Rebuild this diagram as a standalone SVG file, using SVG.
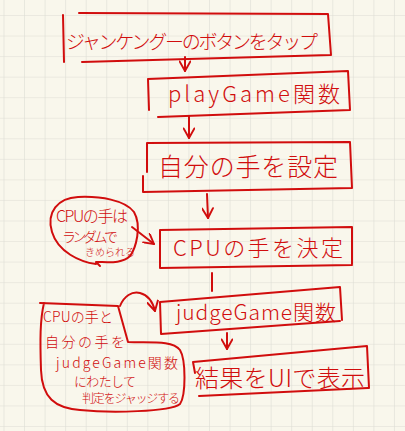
<svg xmlns="http://www.w3.org/2000/svg" width="405" height="431" viewBox="0 0 405 431">
<defs>
<pattern id="grid" x="3.5" y="15" width="20.55" height="20.55" patternUnits="userSpaceOnUse">
<path d="M0,0 H20.55 M0,0 V20.55" fill="none" stroke="#dddcd4" stroke-width="1.2"/>
</pattern>
<marker id="ah" viewBox="0 0 10 10" refX="9" refY="5" markerWidth="12" markerHeight="12" markerUnits="userSpaceOnUse" orient="auto">
<path d="M1,0.5 L9,5 L1,9.5" fill="none" stroke="#d10d0d" stroke-width="1.6" stroke-linecap="round" stroke-linejoin="round"/>
</marker>
<style>
.ln{fill:none;stroke:#d10d0d;stroke-width:2;stroke-linecap:round;stroke-linejoin:round}
.t{fill:#d10d0d;font-family:"Noto Sans CJK JP","Noto Sans",sans-serif;font-weight:300}
</style>
</defs>
<rect width="405" height="431" fill="#f9f7ec"/>
<rect width="405" height="431" fill="url(#grid)"/>
<g id="connectors">
<path class="ln" d="M185,57 L185,71" marker-end="url(#ah)"/>
<path class="ln" d="M189,116 L189,138" marker-end="url(#ah)"/>
<path class="ln" d="M207,194 L208,218" marker-end="url(#ah)"/>
<path class="ln" d="M212,273 L212,291"/>
<path class="ln" d="M227,333 L227,349" marker-end="url(#ah)"/>
<path class="ln" d="M132,227 L154,244" marker-end="url(#ah)"/>
<path class="ln" d="M120,306 C124,296 132,291 140,293 C148,295 153,303 155,311" marker-end="url(#ah)"/>
</g>
<g id="n1">
<path class="ln" d="M79,13 L328,14 L331,55 M63,15 L64,62 M82,62 L330,55"/>
<text class="t" x="66" y="49" font-size="19" textLength="252" lengthAdjust="spacing">ジャンケングーのボタンをタップ</text>
</g>
<g id="n2">
<path class="ln" d="M148,79 L348,71 L350,110 M148,79 L149,110 M158,117 L350,110"/>
<text class="t" x="168" y="102" font-size="22" textLength="172" lengthAdjust="spacing">playGame関数</text>
</g>
<g id="n3">
<path class="ln" d="M147,143 L350,142 L352,188 M147,143 L147,172 M143,176 L143,192 L352,188"/>
<text class="t" x="158" y="176" font-size="25" textLength="180" lengthAdjust="spacing">自分の手を設定</text>
</g>
<g id="n4">
<path class="ln" d="M160,230 L352,227 L352,264 M160,230 L160,268 L352,265"/>
<text class="t" x="173" y="256" font-size="22" textLength="170" lengthAdjust="spacing">CPUの手を決定</text>
</g>
<g id="n5">
<path class="ln" d="M160,302 L340,287 L342,320 M160,302 L161,334 L340,321"/>
<text class="t" x="176" y="320" font-size="21" textLength="160" lengthAdjust="spacing">judgeGame関数</text>
</g>
<g id="n6">
<path class="ln" d="M193,362 L367,346 L369,388 M193,362 L195,373 M199,396 L368,388"/>
<text class="t" x="195" y="387" font-size="24" textLength="170" lengthAdjust="spacing">結果をUIで表示</text>
</g>
<g id="bubble1">
<path class="ln" d="M96,264 C80,262 58,252 52,232 C46,212 58,198 78,197 C100,196 125,200 134,212 C142,226 136,248 130,256 C122,264 108,262 96,262 L100,266"/>
<text class="t" x="56" y="222" font-size="16" textLength="72" lengthAdjust="spacing">CPUの手は</text>
<text class="t" x="62" y="242" font-size="14" textLength="56" lengthAdjust="spacing">ランダムで</text>
<text class="t" x="85" y="256" font-size="10" textLength="50" lengthAdjust="spacing">きめられる</text>
</g>
<g id="bubble2">
<path class="ln" d="M40,303 L118,306 L128,342 C150,343 172,340 180,350 C186,360 186,395 180,404 C170,412 110,413 80,410 C55,408 42,398 41,370 C40,340 40,320 44,303"/>
<text class="t" x="43" y="322" font-size="14" textLength="70" lengthAdjust="spacing">CPUの手と</text>
<text class="t" x="45" y="347" font-size="14" textLength="80" lengthAdjust="spacing">自分の手を</text>
<text class="t" x="56" y="368" font-size="14" textLength="122" lengthAdjust="spacing">judgeGame関数</text>
<text class="t" x="74" y="386" font-size="13" textLength="62" lengthAdjust="spacing">にわたして</text>
<text class="t" x="82" y="403" font-size="12" textLength="98" lengthAdjust="spacing">判定をジャッジする</text>
</g>
</svg>
